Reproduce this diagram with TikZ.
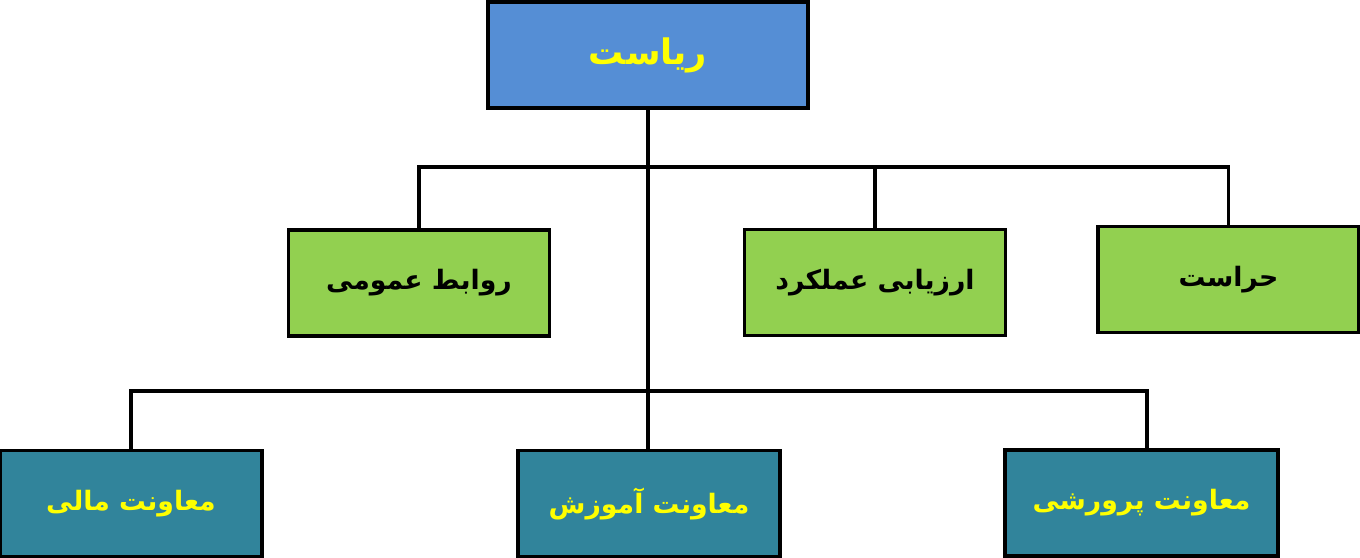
\documentclass[tikz,border=0pt]{standalone}
\usepackage{fontspec}
\newfontfamily\arabicfont[Script=Arabic]{DejaVu Sans}
\TeXXeTstate=1
\definecolor{headblue}{HTML}{558ED5}
\definecolor{unitgreen}{HTML}{92D050}
\definecolor{deputyteal}{HTML}{31849B}
\definecolor{labelyellow}{HTML}{FFFF00}
\newcommand{\fa}[1]{\arabicfont\bfseries\beginR #1\endR}

\begin{document}
\begin{tikzpicture}[x=0.025cm, y=-0.025cm, line width=2.2pt]
    \tikzstyle{every node} = [rectangle, draw, line width=2.2pt, minimum height=106*0.025cm, font=\fontsize{19}{23}\selectfont]
    \tikzstyle{head} = [fill=headblue, text=labelyellow, minimum width=320*0.025cm, font=\fontsize{25}{29}\selectfont]
    \tikzstyle{unit} = [fill=unitgreen, text=black, minimum width=261*0.025cm]
    \tikzstyle{deputy} = [fill=deputyteal, text=labelyellow, minimum width=262*0.025cm]

    \useasboundingbox (0, 0) rectangle (1360, 558);

    \node (a) at (648, 55) [head] {\fa{ریاست}};

    \node (b) at (419, 283) [unit] {\fa{روابط عمومی}};
    \node (c) at (875, 282.5) [unit] {\fa{ارزیابی عملکرد}};
    \node (d) at (1228.5, 279.5) [unit] {\fa{حراست}};

    \node (e) at (131, 503.5) [deputy] {\fa{معاونت مالی}};
    \node (f) at (649, 503.5) [deputy] {\fa{معاونت آموزش}};
    \node (g) at (1141.5, 503) [deputy, minimum width=273*0.025cm] {\fa{معاونت پرورشی}};

    \coordinate (u) at (648, 167);
    \coordinate (v) at (648, 391);
    \coordinate (w) at (1147, 391);

    \draw [-] (a) -- (a |- f.north);

    \draw [-] (b) |- (u) -| (d);
    \draw [-] (c) -- (c |- u);

    \draw [-] (e) |- (w) -- (w |- g.north);
\end{tikzpicture}
\end{document}
